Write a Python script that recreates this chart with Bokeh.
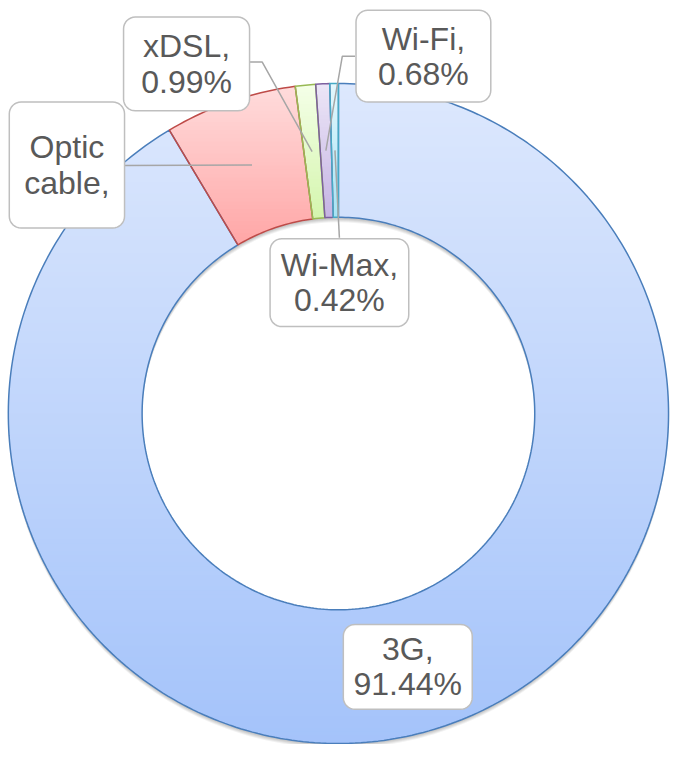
import math
from bokeh.plotting import figure
from bokeh.models import Range1d, ColumnDataSource
from bokeh.core.properties import value
from bokeh.embed import file_html
from bokeh.resources import INLINE

# ---------------- data ----------------
categories = ["3G", "Optic cable", "xDSL", "Wi-Fi", "Wi-Max"]
shares = [91.44, 6.47, 0.99, 0.68, 0.42]
label_line1 = ["3G,", "Optic", "xDSL,", "Wi-Fi,", "Wi-Max,"]
label_line2 = ["91.44%", "cable,", "0.99%", "0.68%", "0.42%"]

# ---------------- style ----------------
top_colors = [(221, 232, 253), (255, 220, 220), (244, 255, 232), (236, 230, 247), (228, 248, 253)]
bottom_colors = [(164, 195, 250), (255, 166, 166), (212, 245, 173), (197, 180, 227), (166, 227, 244)]
line_colors = ["#4a7ebb", "#be4b48", "#98b954", "#7d60a0", "#46aac5"]

W_REF, H_REF = 686, 762
CX, CY = 346, H_REF - 423
R_OUT, R_IN = 338, 201

# label boxes in reference pixel coords (x0, y0_top, x1, y1_bottom)
boxes = [(351, 639, 483, 726), (9, 104, 127, 233), (126, 17, 255, 113),
         (364, 10, 502, 104), (276, 244, 418, 334)]
# leader line start points (from box edge), None => no leader
leader_starts = [None, [(127, 169)], [(255, 63), (268, 63)],
                 [(363, 57), (350, 57)], [(347, 243)]]


def hexc(c):
    return "#%02x%02x%02x" % tuple(int(round(v)) for v in c)


def ring_poly(a0, a1):
    span = abs(a1 - a0)
    n = max(4, int(span / 1.0))
    pts = []
    for k in range(n + 1):
        a = math.radians(a0 + (a1 - a0) * k / n)
        pts.append((CX + R_OUT * math.cos(a), CY + R_OUT * math.sin(a)))
    for k in range(n + 1):
        a = math.radians(a1 + (a0 - a1) * k / n)
        pts.append((CX + R_IN * math.cos(a), CY + R_IN * math.sin(a)))
    return pts


def clip_half(pts, keep, yv):
    out = []
    n = len(pts)
    for i in range(n):
        cur, prev = pts[i], pts[i - 1]
        kc, kp = keep(cur), keep(prev)
        if kc:
            if not kp:
                t = (yv - prev[1]) / (cur[1] - prev[1])
                out.append((prev[0] + t * (cur[0] - prev[0]), yv))
            out.append(cur)
        elif kp:
            t = (yv - prev[1]) / (cur[1] - prev[1])
            out.append((prev[0] + t * (cur[0] - prev[0]), yv))
    return out


def clip_band(pts, y0, y1):
    p1 = clip_half(pts, lambda p: p[1] >= y0, y0)
    if len(p1) < 3:
        return []
    p2 = clip_half(p1, lambda p: p[1] <= y1, y1)
    return p2 if len(p2) >= 3 else []


def rounded_rect(x0, y0, x1, y1, r):
    pts = []
    corners = [(x1 - r, y1 - r, 0), (x0 + r, y1 - r, 90), (x0 + r, y0 + r, 180), (x1 - r, y0 + r, 270)]
    for cx, cy, st in corners:
        for k in range(9):
            a = math.radians(st + 90 * k / 8)
            pts.append((cx + r * math.cos(a), cy + r * math.sin(a)))
    return pts


p = figure(width=670, height=744, x_range=Range1d(0, W_REF), y_range=Range1d(0, H_REF),
           output_backend="svg", toolbar_location=None, min_border=0)
p.axis.visible = False
p.grid.visible = False
p.outline_line_color = None
p.background_fill_color = "white"

# shadow
for off, al in [(2, 0.06), (3, 0.06), (4, 0.06), (5, 0.05)]:
    p.annulus(x=[CX], y=[CY - off], inner_radius=R_IN, outer_radius=R_OUT,
              fill_color="black", fill_alpha=al, line_color=None)

# slices
total = sum(shares)
cum = 0.0
slice_polys = []
mid_angles = []
band_xs, band_ys, band_cols = [], [], []
for i, s in enumerate(shares):
    a0 = 90 - cum / total * 360
    a1 = 90 - (cum + s) / total * 360
    mid_angles.append((a0 + a1) / 2)
    cum += s
    poly = ring_poly(a0, a1)
    slice_polys.append(poly)
    ymin = min(q[1] for q in poly)
    ymax = max(q[1] for q in poly)
    nb = max(8, int((ymax - ymin) / 4))
    h = (ymax - ymin) / nb
    for b in range(nb):
        y0 = ymin + b * h
        y1 = min(ymax, y0 + h + 0.8)
        cp = clip_band(poly, y0 - 0.01, y1)
        if not cp:
            continue
        t = 1 - ((y0 + h / 2) - ymin) / (ymax - ymin)  # 0 at top, 1 at bottom
        c = [top_colors[i][j] + (bottom_colors[i][j] - top_colors[i][j]) * t for j in range(3)]
        band_xs.append([q[0] for q in cp])
        band_ys.append([q[1] for q in cp])
        band_cols.append(hexc(c))

p.patches(xs="xs", ys="ys", fill_color="c", line_color=None,
          source=ColumnDataSource(dict(xs=band_xs, ys=band_ys, c=band_cols)))

p.patches(xs=[[q[0] for q in poly] for poly in slice_polys],
          ys=[[q[1] for q in poly] for poly in slice_polys],
          fill_alpha=0, line_color=line_colors, line_width=1.5)

# leader lines
r_mid = (R_OUT + R_IN) / 2
for i, st in enumerate(leader_starts):
    if st is None:
        continue
    a = math.radians(mid_angles[i])
    end = (CX + r_mid * math.cos(a), CY + r_mid * math.sin(a))
    xs = [q[0] for q in st] + [end[0]]
    ys = [H_REF - q[1] for q in st] + [end[1]]
    p.line(xs, ys, line_color="#a6a6a6", line_width=1.5)

# label boxes
bx, by = [], []
tx, ty, tt = [], [], []
for i, (x0, yt, x1, yb) in enumerate(boxes):
    rr = rounded_rect(x0, H_REF - yb, x1, H_REF - yt, 12)
    bx.append([q[0] for q in rr])
    by.append([q[1] for q in rr])
    cxb = (x0 + x1) / 2
    cyb = H_REF - (yt + yb) / 2
    tx += [cxb, cxb]
    ty += [cyb + 18, cyb - 18]
    tt += [label_line1[i], label_line2[i]]

p.patches(xs=bx, ys=by, fill_color="white", line_color="#bfbfbf", line_width=1.5)
p.text(x=tx, y=ty, text=tt, text_align="center", text_baseline="middle",
       text_font=value("Liberation Sans"), text_font_size="32px", text_color="#595959")

open("out.html", "w").write(file_html(p, INLINE))
